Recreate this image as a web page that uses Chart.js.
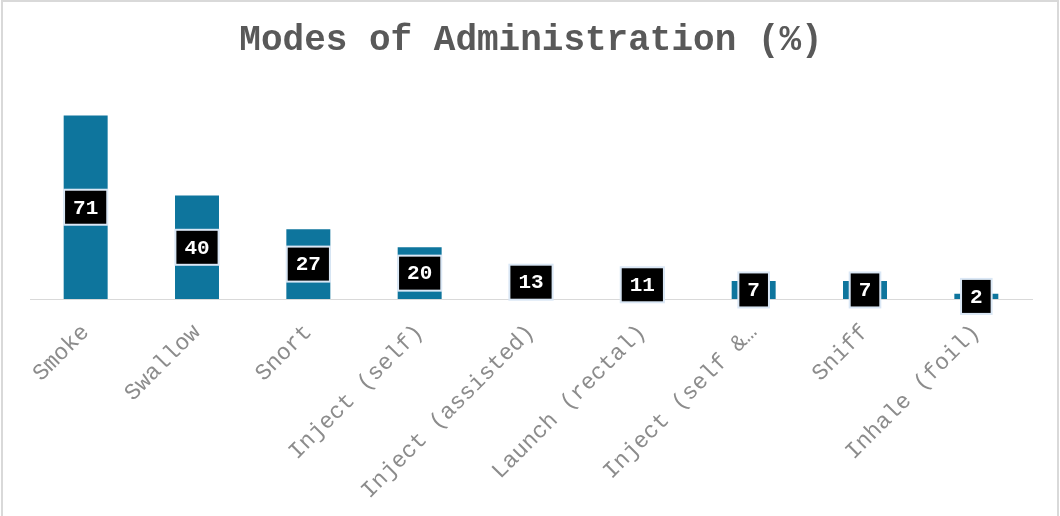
<!DOCTYPE html>
<html>
<head>
<meta charset="utf-8">
<script src="https://cdn.jsdelivr.net/npm/chart.js@4/dist/chart.umd.min.js"></script>
<style>
  html, body { margin: 0; padding: 0; background: #fff; }
  canvas { display: block; }
</style>
</head>
<body>
<canvas id="modesChart" width="1060" height="516"></canvas>
<script>
// Datos del gráfico
const categories = ['Smoke', 'Swallow', 'Snort', 'Inject (self)', 'Inject (assisted)',
  'Launch (rectal)', 'Inject (self &…', 'Sniff', 'Inhale (foil)'];
const percentages = [71, 40, 27, 20, 13, 11, 7, 7, 2];
const yMin = 0;
const yMax = 80;

const monoFont = "'Liberation Mono', 'DejaVu Sans Mono', monospace";

// Marco gris alrededor del gráfico
const framePlugin = {
  id: 'frame',
  beforeDraw(chart) {
    const c = chart.ctx;
    c.save();
    c.fillStyle = '#ffffff';
    c.fillRect(0, 0, chart.width, chart.height);
    c.strokeStyle = '#d9d9d9';
    c.lineWidth = 2;
    c.strokeRect(2, 1, 1056, 530);
    c.restore();
  }
};

// Etiquetas de datos: caja negra con borde celeste en el centro de cada barra
const boxLabelPlugin = {
  id: 'boxLabels',
  afterDatasetsDraw(chart) {
    const c = chart.ctx;
    const meta = chart.getDatasetMeta(0);
    c.save();
    c.font = 'bold 21px ' + monoFont;
    c.textAlign = 'center';
    c.textBaseline = 'middle';
    meta.data.forEach((bar, i) => {
      const text = String(chart.data.datasets[0].data[i]);
      const cy = (bar.y + bar.base) / 2;
      const w = c.measureText(text).width + 18;
      const h = 35;
      c.fillStyle = '#000000';
      c.fillRect(bar.x - w / 2, cy - h / 2, w, h);
      c.strokeStyle = '#dae7f5';
      c.lineWidth = 2;
      c.strokeRect(bar.x - w / 2, cy - h / 2, w, h);
      c.fillStyle = '#ffffff';
      c.fillText(text, bar.x, cy + 1);
    });
    c.restore();
  }
};

const ctx = document.getElementById('modesChart').getContext('2d');

new Chart(ctx, {
  type: 'bar',
  data: {
    labels: categories,
    datasets: [{
      label: 'Modes of Administration (%)',
      data: percentages,
      backgroundColor: '#0e759d',
      borderWidth: 0,
      categoryPercentage: 1,
      barPercentage: 0.395
    }]
  },
  options: {
    responsive: false,
    animation: false,
    layout: { padding: { left: 30, right: 28, top: 0, bottom: 0 } },
    plugins: {
      legend: { display: false },
      tooltip: { enabled: false },
      title: {
        display: true,
        text: 'Modes of Administration (%)',
        color: '#595959',
        font: { family: monoFont, size: 36, weight: 'bold' },
        padding: { top: 19, bottom: 30 }
      }
    },
    scales: {
      x: {
        grid: { display: false },
        border: { display: true, color: '#d9d9d9', width: 1 },
        ticks: {
          color: '#8c8c8c',
          font: { family: monoFont, size: 23 },
          minRotation: 45,
          maxRotation: 45,
          autoSkip: false,
          padding: 12
        },
        afterFit(scale) { scale.height = 217; }
      },
      y: {
        display: false,
        min: yMin,
        max: yMax
      }
    }
  },
  plugins: [framePlugin, boxLabelPlugin]
});
</script>
</body>
</html>
